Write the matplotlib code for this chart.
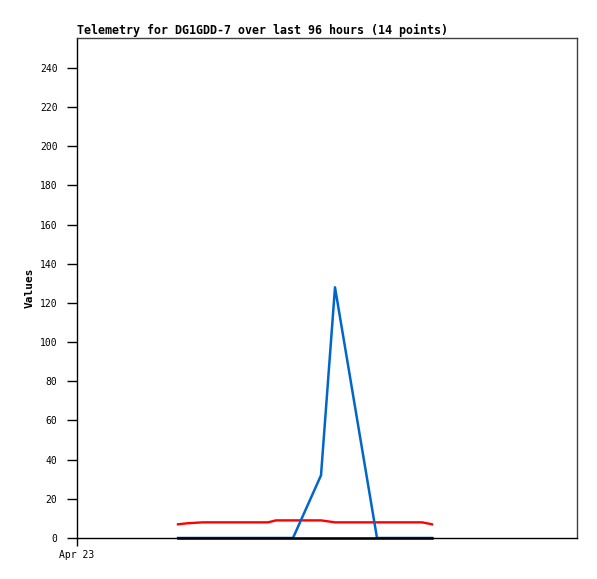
import matplotlib
matplotlib.use("Agg")
import matplotlib.pyplot as plt

# hours since Apr 23 00:00
hours = [25.25, 27.5, 31.5, 38.25, 43.25, 47.75, 49.75, 54.0, 61.0, 64.5,
         75.0, 80.75, 86.25, 88.75]
red_vals = [7, 7.5, 8, 8, 8, 8, 9, 9, 9, 8, 8, 8, 8, 7]
blue_vals = [0, 0, 0, 0, 0, 0, 0, 0, 32, 128, 0, 0, 0, 0]
black_vals = [0] * 14

y_ticks = list(range(0, 241, 20))
x_ticks = [0]
x_labels = ["Apr 23"]

fig = plt.figure(figsize=(5.97, 5.79), dpi=100)
ax = fig.add_axes([77 / 597, 41 / 579, 500 / 597, 500 / 579])

ax.plot(hours, red_vals, color="#ff0000", lw=1.7)
ax.plot(hours, blue_vals, color="#0066cc", lw=1.8)
ax.plot(hours, black_vals, color="#000000", lw=1.8, clip_on=False)

ax.set_xlim(0, 125)
ax.set_ylim(0, 255.3)
ax.set_yticks(y_ticks)
ax.set_xticks(x_ticks)
ax.set_xticklabels(x_labels)

for side in ("top", "right"):
    ax.spines[side].set_color("#404040")
for side in ("left", "bottom"):
    ax.spines[side].set_color("#000000")
for s in ax.spines.values():
    s.set_linewidth(1.0)

ax.tick_params(axis="y", direction="out", length=7, width=1, pad=7,
               labelsize=7)
ax.tick_params(axis="x", direction="out", length=6, width=1, pad=3,
               labelsize=7)
for lbl in ax.get_xticklabels() + ax.get_yticklabels():
    lbl.set_family("DejaVu Sans Mono")

ax.set_ylabel("Values", family="DejaVu Sans Mono", fontweight="bold",
              fontsize=8, labelpad=4)
ax.set_title("Telemetry for DG1GDD-7 over last 96 hours (14 points)",
             family="DejaVu Sans Mono", fontweight="bold", fontsize=8.4,
             loc="left", pad=3)

fig.savefig("out.png", dpi=100)
